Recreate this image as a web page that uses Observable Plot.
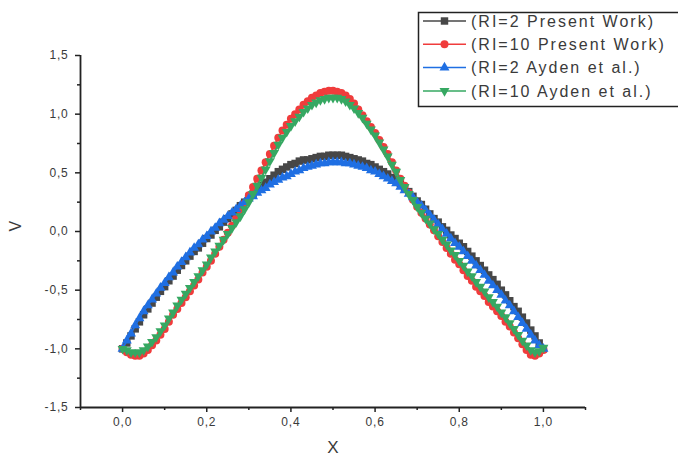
<!DOCTYPE html>
<html><head><meta charset="utf-8">
<script src="https://cdn.jsdelivr.net/npm/d3@7"></script>
<script src="https://cdn.jsdelivr.net/npm/@observablehq/plot@0.6"></script>
<style>
html,body{margin:0;padding:0;background:#fff;}
#chart{position:relative;width:678px;height:464px;overflow:hidden;}
</style></head><body><div id="chart"></div>
<script>
// x positions (X)
const xs = [0.00,0.01,0.02,0.03,0.04,0.05,0.06,0.07,0.08,0.09,
0.10,0.11,0.12,0.13,0.14,0.15,0.16,0.17,0.18,0.19,
0.20,0.21,0.22,0.23,0.24,0.25,0.26,0.27,0.28,0.29,
0.30,0.31,0.32,0.33,0.34,0.35,0.36,0.37,0.38,0.39,
0.40,0.41,0.42,0.43,0.44,0.45,0.46,0.47,0.48,0.49,
0.50,0.51,0.52,0.53,0.54,0.55,0.56,0.57,0.58,0.59,
0.60,0.61,0.62,0.63,0.64,0.65,0.66,0.67,0.68,0.69,
0.70,0.71,0.72,0.73,0.74,0.75,0.76,0.77,0.78,0.79,
0.80,0.81,0.82,0.83,0.84,0.85,0.86,0.87,0.88,0.89,
0.90,0.91,0.92,0.93,0.94,0.95,0.96,0.97,0.98,0.99,1.00];

// V values, RI=2 Present Work
const ri2Present = [-1.00,-0.95,-0.89,-0.83,-0.77,-0.71,-0.66,-0.61,-0.56,-0.51,
-0.47,-0.42,-0.38,-0.33,-0.29,-0.25,-0.21,-0.17,-0.14,-0.10,
-0.06,-0.03,0.01,0.04,0.08,0.11,0.15,0.18,0.22,0.25,
0.29,0.32,0.36,0.39,0.42,0.45,0.48,0.51,0.53,0.55,
0.57,0.58,0.60,0.61,0.61,0.62,0.63,0.64,0.64,0.65,
0.65,0.65,0.65,0.64,0.63,0.62,0.61,0.60,0.58,0.57,
0.55,0.53,0.51,0.49,0.46,0.44,0.41,0.37,0.34,0.30,
0.26,0.23,0.19,0.15,0.11,0.08,0.04,0.01,-0.03,-0.06,
-0.10,-0.13,-0.17,-0.21,-0.25,-0.29,-0.33,-0.37,-0.41,-0.45,
-0.50,-0.54,-0.59,-0.64,-0.68,-0.73,-0.78,-0.84,-0.89,-0.95,-1.00];

// V values, RI=10 Present Work
const ri10Present = [-1.00,-1.03,-1.05,-1.06,-1.06,-1.04,-1.01,-0.97,-0.93,-0.88,
-0.83,-0.77,-0.71,-0.66,-0.61,-0.56,-0.51,-0.46,-0.41,-0.35,
-0.30,-0.25,-0.19,-0.13,-0.07,-0.01,0.05,0.11,0.18,0.24,
0.31,0.38,0.45,0.52,0.59,0.66,0.73,0.80,0.86,0.91,
0.96,1.00,1.04,1.08,1.11,1.14,1.16,1.18,1.19,1.20,
1.20,1.19,1.18,1.16,1.13,1.09,1.04,0.99,0.94,0.89,
0.84,0.78,0.72,0.66,0.59,0.52,0.45,0.39,0.33,0.27,
0.21,0.16,0.11,0.06,0.01,-0.04,-0.09,-0.14,-0.19,-0.24,
-0.28,-0.33,-0.38,-0.42,-0.47,-0.51,-0.55,-0.60,-0.64,-0.68,
-0.72,-0.77,-0.81,-0.86,-0.91,-0.96,-1.01,-1.05,-1.06,-1.04,-1.01];

// V values, RI=2 Ayden et al.
const ri2Ayden = [-1.00,-0.93,-0.87,-0.80,-0.74,-0.68,-0.63,-0.58,-0.53,-0.48,
-0.44,-0.39,-0.35,-0.30,-0.26,-0.22,-0.18,-0.14,-0.11,-0.07,
-0.04,0.00,0.03,0.07,0.10,0.13,0.16,0.19,0.22,0.25,
0.28,0.30,0.33,0.35,0.37,0.40,0.42,0.44,0.46,0.47,
0.49,0.51,0.52,0.54,0.55,0.56,0.57,0.58,0.58,0.59,
0.59,0.59,0.59,0.58,0.58,0.57,0.56,0.55,0.54,0.52,
0.51,0.49,0.47,0.45,0.43,0.41,0.38,0.35,0.32,0.29,
0.25,0.22,0.18,0.14,0.10,0.06,0.02,-0.02,-0.06,-0.10,
-0.13,-0.17,-0.21,-0.25,-0.29,-0.33,-0.37,-0.42,-0.46,-0.50,
-0.54,-0.59,-0.63,-0.68,-0.73,-0.78,-0.83,-0.88,-0.93,-0.97,-1.00];

// V values, RI=10 Ayden et al.
const ri10Ayden = [-1.00,-1.01,-1.03,-1.03,-1.03,-1.01,-0.98,-0.94,-0.90,-0.85,
-0.80,-0.74,-0.69,-0.63,-0.58,-0.53,-0.48,-0.43,-0.38,-0.33,
-0.28,-0.22,-0.17,-0.12,-0.07,-0.02,0.03,0.08,0.13,0.19,
0.25,0.32,0.39,0.46,0.53,0.60,0.67,0.74,0.80,0.85,
0.90,0.94,0.98,1.02,1.05,1.08,1.10,1.12,1.13,1.14,
1.14,1.14,1.13,1.11,1.08,1.05,1.01,0.97,0.92,0.87,
0.82,0.76,0.70,0.64,0.57,0.51,0.44,0.38,0.32,0.27,
0.21,0.16,0.11,0.07,0.02,-0.02,-0.07,-0.11,-0.16,-0.20,
-0.25,-0.29,-0.34,-0.38,-0.43,-0.47,-0.51,-0.56,-0.60,-0.64,
-0.69,-0.73,-0.78,-0.83,-0.88,-0.93,-0.97,-1.01,-1.03,-1.02,-0.99];

const seriesNames = ["(RI=2 Present Work)", "(RI=10 Present Work)", "(RI=2 Ayden et al.)", "(RI=10 Ayden et al.)"];
const seriesValues = [ri2Present, ri10Present, ri2Ayden, ri10Ayden];
const seriesColors = ["#474747", "#f03c3c", "#1f6fe3", "#36a862"];

const xTicks = [0, 0.2, 0.4, 0.6, 0.8, 1.0];
const xMinor = [-0.1, 0.1, 0.3, 0.5, 0.7, 0.9, 1.1];
const yTicks = [-1.5, -1.0, -0.5, 0.0, 0.5, 1.0, 1.5];
const yMinor = [-1.25, -0.75, -0.25, 0.25, 0.75, 1.25];
const xLabel = "X";
const yLabel = "V";

const sqrt3 = Math.sqrt(3);
const triangleDown = {
  draw(context, size) {
    const y = -Math.sqrt(size / (sqrt3 * 3));
    context.moveTo(0, -y * 2);
    context.lineTo(-sqrt3 * y, y);
    context.lineTo(sqrt3 * y, y);
    context.closePath();
  }
};
const symbols = [d3.symbolSquare, d3.symbolCircle, d3.symbolTriangle, triangleDown];
const radii = [4.2, 4.0, 3.7, 3.7];

const fmt = d => d.toFixed(1).replace(".", ",");

const dataMarks = [];
seriesValues.forEach((vals, k) => {
  const rows = xs.map((x, i) => ({x, v: vals[i]}));
  dataMarks.push(Plot.line(rows, {x: "x", y: "v", stroke: seriesColors[k], strokeWidth: 1.8}));
  dataMarks.push(Plot.dot(rows, {x: "x", y: "v", symbol: () => symbols[k], r: radii[k], fill: seriesColors[k], stroke: "none"}));
});

const plot = Plot.plot({
  width: 678, height: 464,
  marginLeft: 80, marginRight: 93, marginTop: 55, marginBottom: 57,
  x: {domain: [-0.1, 1.1], label: null},
  y: {domain: [-1.5, 1.5], label: null},
  symbol: {type: "identity"},
  style: {fontFamily: "'Liberation Sans', Arial, sans-serif", fontSize: "12px", color: "#3a3a3a", background: "white"},
  marks: [
    Plot.axisX(xTicks, {tickSize: 5, tickPadding: 5, tickFormat: fmt, stroke: "#222", strokeWidth: 1.5, fontSize: 12, fill: "#3a3a3a", label: null}),
    Plot.axisX(xMinor, {tickSize: 3, tickFormat: () => "", stroke: "#222", strokeWidth: 1.5, label: null}),
    Plot.axisY(yTicks, {tickSize: 5, tickPadding: 7, tickFormat: fmt, stroke: "#222", strokeWidth: 1.5, fontSize: 12, fill: "#3a3a3a", label: null}),
    Plot.axisY(yMinor, {tickSize: 3, tickFormat: () => "", stroke: "#222", strokeWidth: 1.5, label: null}),
    Plot.ruleX([-0.1], {stroke: "#222", strokeWidth: 1.8}),
    Plot.ruleY([-1.5], {stroke: "#222", strokeWidth: 1.8}),
    Plot.text([xLabel], {frameAnchor: "bottom", dy: 45, fontSize: 17, fill: "#3a3a3a"}),
    Plot.text([yLabel], {frameAnchor: "left", dx: -65, rotate: -90, fontSize: 16, fill: "#3a3a3a"}),
    ...dataMarks
  ]
});
document.getElementById("chart").appendChild(plot);

const svg = d3.select(plot);
svg.selectAll("g[aria-label='x-axis tick label'], g[aria-label='y-axis tick label']").attr("letter-spacing", "0.8px");

// Legend
const lg = svg.append("g").attr("font-family", "'Liberation Sans', Arial, sans-serif").attr("text-anchor", "start");
lg.append("rect").attr("x", 418.5).attr("y", 12.5).attr("width", 290).attr("height", 94)
  .attr("fill", "white").attr("stroke", "#222").attr("stroke-width", 1.5);
seriesNames.forEach((name, i) => {
  const cy = 21 + i * 23.3;
  lg.append("line").attr("x1", 423).attr("x2", 466).attr("y1", cy).attr("y2", cy)
    .attr("stroke", seriesColors[i]).attr("stroke-width", 1.5);
  lg.append("path").attr("transform", `translate(444.5,${cy})`)
    .attr("d", d3.symbol(symbols[i], radii[i] * radii[i] * Math.PI)())
    .attr("fill", seriesColors[i]);
  lg.append("text").attr("x", 471).attr("y", cy).attr("dy", "0.36em").attr("text-anchor", "start")
    .attr("font-size", 16).attr("letter-spacing", "2px").attr("fill", "#3a3a3a").text(name);
});
</script>
</body></html>
